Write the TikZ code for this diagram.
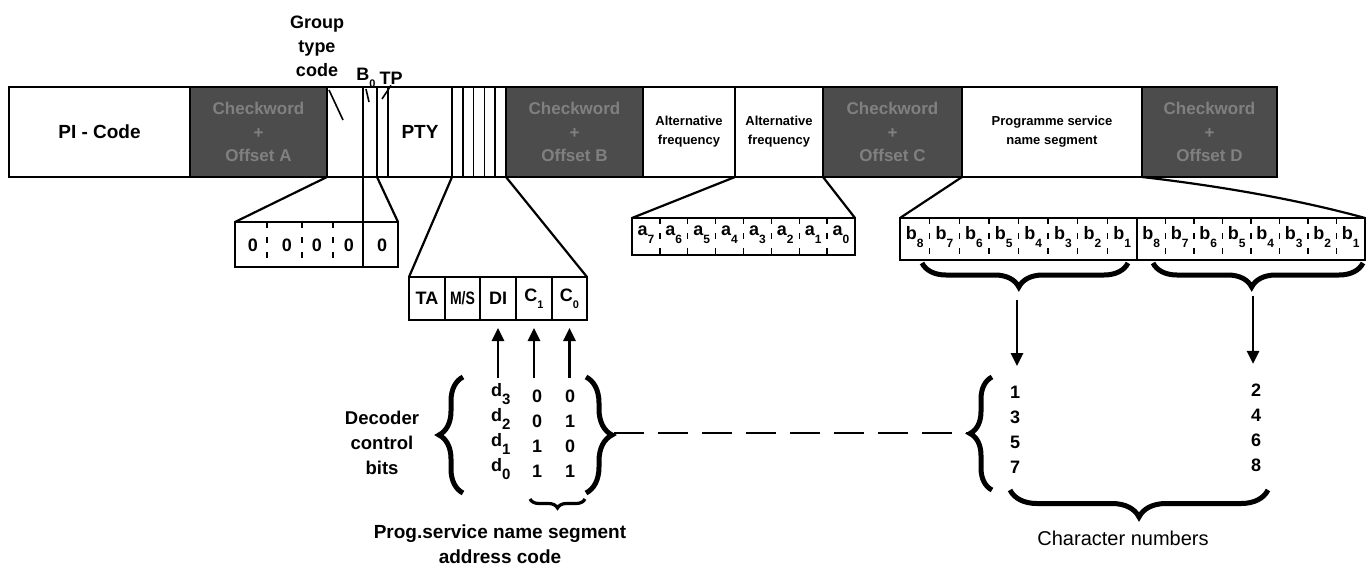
\documentclass[tikz,border=0pt]{standalone}
\usepackage{fontspec}
\setmainfont{Liberation Sans}
\usetikzlibrary{decorations.pathreplacing,arrows.meta,calc}
\newcommand\sbx[1]{\raisebox{-0.4em}{\fontsize{11}{11}\selectfont #1}}
\newcommand\sbd[1]{\raisebox{-0.45em}{\fontsize{15}{15}\selectfont #1}}
\newcommand\sbab[1]{\raisebox{-0.45em}{\fontsize{12}{12}\selectfont #1}}
\tikzset{
  seg/.style={draw, line width=1.6pt, inner sep=0pt, outer sep=0pt, anchor=north west, minimum height=90pt},
  lbl/.style={font=\fontsize{18}{24}\selectfont\bfseries, align=center, inner sep=1pt},
  cw/.style={seg, fill=black!70, text=black!50, font=\fontsize{17}{23.5}\selectfont\bfseries, align=center},
  small/.style={font=\fontsize{13}{19}\selectfont\bfseries, align=center, inner sep=1pt},
  fld/.style={draw, line width=2.2pt, inner sep=0pt, outer sep=0pt, anchor=north west},
  bitt/.style={font=\fontsize{18}{20}\selectfont\bfseries, inner sep=0pt},
  abt/.style={font=\fontsize{18}{20}\selectfont\bfseries, inner sep=0pt},
  fan/.style={line width=2.2pt},
  ptr/.style={line width=1.6pt},
  tick/.style={line width=1.4pt, dash pattern=on 6pt off 9pt},
  uparrow/.style={line width=2.8pt, -{Triangle[width=12pt,length=13pt]}},
  bigbrace/.style={decorate, decoration={brace, amplitude=#1}, line width=5pt},
  midbrace/.style={decorate, decoration={brace, amplitude=#1, aspect=0.53}, line width=5pt},
  smallbrace/.style={decorate, decoration={brace, amplitude=#1}, line width=3.2pt},
  dashlink/.style={line width=2.4pt, dash pattern=on 30pt off 14pt},
}
\begin{document}
\begin{tikzpicture}[x=1pt,y=-1pt]
\useasboundingbox (0,0) rectangle (1367,565);

% ---------- top bar ----------
\node[seg, minimum width=181pt, font=\fontsize{19}{24}\selectfont\bfseries] (pi) at (9,87) {PI - Code};
\node[cw, minimum width=137pt] (cwa) at (190,87) {Checkword\\+\\Offset A};
\node[seg, minimum width=36pt] (gtc) at (327,87) {};
\node[seg, minimum width=14pt] (b0) at (363,87) {};
\node[seg, minimum width=11pt] (tp) at (377,87) {};
\node[seg, minimum width=64pt, font=\fontsize{19}{24}\selectfont\bfseries] (pty) at (388,87) {PTY};
\foreach \i in {1,...,5}
  \node[seg, minimum width=10.8pt] (p\i) at ({452+(\i-1)*10.8},87) {};
\node[cw, minimum width=137pt] (cwb) at (506,87) {Checkword\\+\\Offset B};
\node[seg, minimum width=92pt, small] (af1) at (643,87) {Alternative\\frequency};
\node[seg, minimum width=88pt, small] (af2) at (735,87) {Alternative\\frequency};
\node[cw, minimum width=139pt] (cwc) at (823,87) {Checkword\\+\\Offset C};
\node[seg, minimum width=180pt, small] (ps) at (962,87) {Programme service\\name segment};
\node[cw, minimum width=135pt] (cwd) at (1142,87) {Checkword\\+\\Offset D};
\draw[line width=2.8pt] (pi.north west) rectangle (cwd.south east);

% labels above bar
\node[lbl] (gtl) at (317,46) {Group\\type\\code};
\node[lbl] (lb0) at (366,78) {B\sbx{0}};
\node[lbl] (ltp) at (391,78) {TP};
\coordinate (g1) at (329,90);
\coordinate (g2) at (343,120);
\draw[ptr] (g1) -- (g2);
\coordinate (bb1) at (369,102);
\draw[ptr] (lb0.south) -- (bb1);
\coordinate (tt1) at (382,99);
\draw[ptr] (ltp.south) -- (tt1);

% ---------- group type / B0 field ----------
\node[fld, minimum width=163pt, minimum height=45pt] (zf) at (235,222) {};
\draw[fan] (gtc.south west) -- (zf.north west);
\draw[fan] (b0.south east) -- (zf.north east);
\coordinate (zdiv) at (363,267);
\draw[fan] (b0.south west) -- (zdiv);
\foreach \x in {267,302,333} \draw[tick] (\x,222) -- (\x,267);
\foreach \x in {253,287,317,349,382} \node[bitt] at (\x,245) {0};

% ---------- TA M/S DI C1 C0 field ----------
\node[fld, minimum width=36pt, minimum height=43pt, bitt] (ta) at (409,277) {TA};
\node[fld, minimum width=35pt, minimum height=43pt, bitt] (ms) at (445,277) {\scalebox{0.78}[1]{M/S}};
\node[fld, minimum width=36pt, minimum height=43pt, bitt] (di) at (480,277) {DI};
\node[fld, minimum width=36pt, minimum height=43pt, bitt] (c1) at (516,277) {C\sbx{1}};
\node[fld, minimum width=35pt, minimum height=43pt, bitt] (c0) at (552,277) {C\sbx{0}};
\draw[fan] (p1.south west) -- (ta.north west);
\draw[fan] (p5.south east) -- (c0.north east);

\coordinate (sdi) at (498,378);
\coordinate (sc1) at (534,378);
\coordinate (sc0) at (569.5,378);
\draw[uparrow, shorten >=8pt] (sdi) -- (di.south);
\draw[uparrow, shorten >=8pt] (sc1) -- (c1.south);
\draw[uparrow, shorten >=8pt] (sc0) -- (c0.south);

% decoder matrix
\node[bitt, anchor=west] (d3) at (491,394) {d\sbd{3}};
\node[bitt, anchor=west] (d2) at (491,419) {d\sbd{2}};
\node[bitt, anchor=west] (d1) at (491,444) {d\sbd{1}};
\node[bitt, anchor=west] (d0) at (491,469) {d\sbd{0}};
\foreach \y/\a/\b in {396/0/0,421/0/1,446/1/0,471/1/1}{
  \node[bitt] at (537,\y) {\a};
  \node[bitt] at (570,\y) {\b};
}
\draw[bigbrace=24pt] (463,493) -- (463,377);
\draw[bigbrace=26pt] (586,377) -- (586,493);
\node[lbl, font=\fontsize{18.5}{25}\selectfont\bfseries] (dcb) at (382,443) {Decoder\\control\\bits};
\draw[smallbrace=9pt] (585,499) -- (530,499);
\node[lbl, font=\fontsize{19}{25}\selectfont\bfseries] (psa) at (500,544) {Prog.service name segment\\address code};

% ---------- alternative frequency field ----------
\node[fld, minimum width=223pt, minimum height=37pt] (afb) at (632,218) {};
\draw[fan] (af2.south west) -- (afb.north west);
\draw[fan] (af2.south east) -- (afb.north east);
\foreach \i in {1,...,7} \draw[tick] ({632+\i*27.875},218) -- ++(0,37);
\foreach \i/\n in {0/7,1/6,2/5,3/4,4/3,5/2,6/1,7/0}
  \node[abt] at ({632+(\i+0.5)*27.875},235) {a\sbab{\n}};

% ---------- programme service field ----------
\node[fld, minimum width=237pt, minimum height=42pt] (psl) at (900,218) {};
\node[fld, minimum width=228pt, minimum height=42pt] (psr) at (1137,218) {};
\draw[fan] (ps.south west) -- (psl.north west);
\draw[fan] (ps.south east) .. controls (1220,186) and (1300,200) .. (psr.north east);
\foreach \i in {1,...,7} {
  \draw[tick] ({900+\i*29.625},218) -- ++(0,42);
  \draw[tick] ({1137+\i*28.5},218) -- ++(0,42);
}
\foreach \i/\n in {0/8,1/7,2/6,3/5,4/4,5/3,6/2,7/1} {
  \node[abt] at ({900+(\i+0.5)*29.625},237) {b\sbab{\n}};
  \node[abt] at ({1137+(\i+0.5)*28.5},237) {b\sbab{\n}};
}
\draw[midbrace=24pt] (1128,263) -- (922,263);
\draw[midbrace=24pt] (1363,263) -- (1153,263);

% character numbers
\node[bitt, align=center, font=\fontsize{18}{25}\selectfont\bfseries] (colL) at (1015,430) {1\\3\\5\\7};
\node[bitt, align=center, font=\fontsize{18}{25}\selectfont\bfseries] (colR) at (1256,428) {2\\4\\6\\8};
\coordinate (tipL) at (1017,300);
\coordinate (tipR) at (1253,296);
\draw[uparrow, shorten >=20pt] (tipL) -- (tipL |- colL.north);
\draw[uparrow, shorten >=20pt] (tipR) -- (tipR |- colR.north);
\draw[bigbrace=22pt] (992,490) -- (992,377);
\draw[bigbrace=27pt] (1268,490) -- (1010,490);
\node[font=\fontsize{20}{24}\selectfont] (chn) at (1123,538) {Character numbers};

% dashed link
\coordinate (lk1) at (614,433);
\coordinate (lk2) at (968,433);
\draw[dashlink] (lk1) -- (lk2);
\end{tikzpicture}
\end{document}
